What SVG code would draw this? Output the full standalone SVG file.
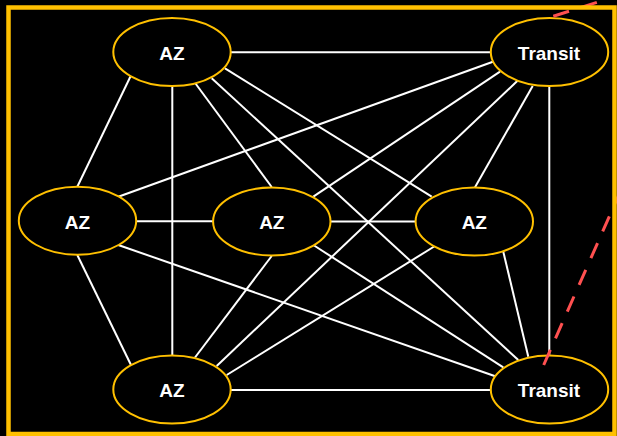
<svg xmlns="http://www.w3.org/2000/svg" width="617" height="436" viewBox="0 0 617 436">
<style>
.node ellipse{fill:#000;stroke:#FFC000;stroke-width:2}
.node text{fill:#fff;font-family:"Liberation Sans",Arial,sans-serif;font-weight:bold;font-size:19px;text-anchor:middle}
#edges line{stroke:#fff;stroke-width:2}
.dash{fill:none;stroke:#FF5050;stroke-width:3;stroke-dasharray:16.5 12.7}
</style>
<rect x="0" y="0" width="617" height="436" fill="#000"/>
<g id="edges">
<line x1="230.7" y1="52.3" x2="490.7" y2="52.3"/>
<line x1="130.7" y1="76" x2="77.3" y2="186.7"/>
<line x1="172.3" y1="86" x2="172.3" y2="355.7"/>
<line x1="195.5" y1="83.5" x2="271.7" y2="187"/>
<line x1="211.7" y1="78.3" x2="518.3" y2="360"/>
<line x1="225" y1="68.3" x2="431.7" y2="196.7"/>
<line x1="495" y1="61" x2="118.3" y2="196.7"/>
<line x1="500" y1="71.7" x2="313.3" y2="196.7"/>
<line x1="518.3" y1="80" x2="216.7" y2="366"/>
<line x1="532.7" y1="86" x2="475" y2="187.3"/>
<line x1="549.3" y1="86" x2="549.3" y2="355.7"/>
<line x1="136" y1="221.3" x2="213.3" y2="221.3"/>
<line x1="118.3" y1="245" x2="496.7" y2="376.7"/>
<line x1="77.3" y1="255" x2="131" y2="365"/>
<line x1="330" y1="221.5" x2="416" y2="221.5"/>
<line x1="271.7" y1="256" x2="195" y2="357.5"/>
<line x1="313.3" y1="245" x2="503.3" y2="367.3"/>
<line x1="435" y1="246" x2="226.7" y2="375"/>
<line x1="503.3" y1="251.7" x2="528.3" y2="356.7"/>
<line x1="230" y1="390" x2="490.7" y2="390"/>
</g>
<g id="az-top" class="node"><ellipse cx="172" cy="52" rx="58.7" ry="34"/><text x="172" y="60">AZ</text></g>
<g id="transit-top" class="node"><ellipse cx="549.5" cy="52" rx="58.7" ry="34"/><text x="549" y="60">Transit</text></g>
<g id="az-left" class="node"><ellipse cx="77.5" cy="220.7" rx="58.7" ry="34"/><text x="77.5" y="228.5">AZ</text></g>
<g id="az-middle" class="node"><ellipse cx="271.8" cy="221.5" rx="58.7" ry="34"/><text x="271.8" y="229">AZ</text></g>
<g id="az-right" class="node"><ellipse cx="474.3" cy="221.5" rx="58.7" ry="34"/><text x="474.3" y="229">AZ</text></g>
<g id="az-bottom" class="node"><ellipse cx="172" cy="389.5" rx="58.7" ry="34"/><text x="172" y="397">AZ</text></g>
<g id="transit-bottom" class="node"><ellipse cx="549.5" cy="389.5" rx="58.7" ry="34"/><text x="549" y="397">Transit</text></g>
<path class="dash" d="M543.7,365 L621,190"/>
<path class="dash" d="M553.3,16.3 L620,-5"/>
<rect x="8.5" y="7.5" width="606" height="426.5" fill="none" stroke="#FFC000" stroke-width="4.5"/>
</svg>
